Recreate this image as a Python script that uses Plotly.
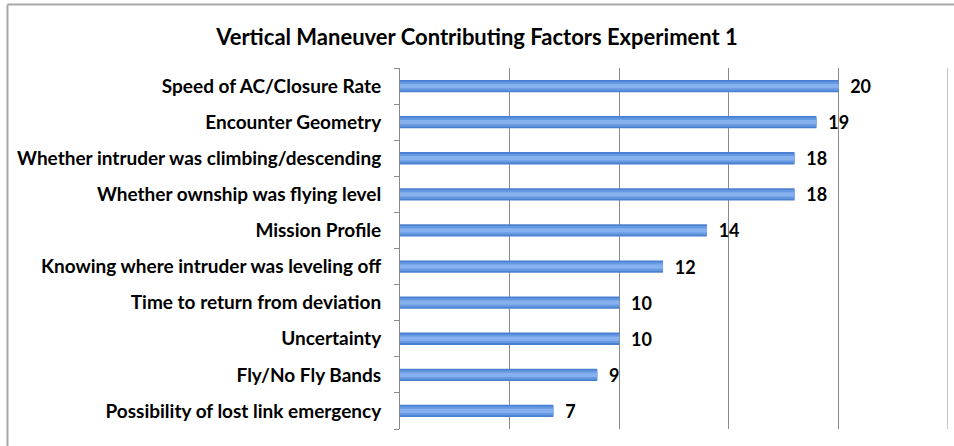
import plotly.graph_objects as go

categories = [
    "Speed of AC/Closure Rate",
    "Encounter Geometry",
    "Whether intruder was climbing/descending",
    "Whether ownship was flying level",
    "Mission Profile",
    "Knowing where intruder was leveling off",
    "Time to return from deviation",
    "Uncertainty",
    "Fly/No Fly Bands",
    "Possibility of lost link emergency",
]
values = [20, 19, 18, 18, 14, 12, 10, 10, 9, 7]
title_text = "Vertical Maneuver Contributing Factors Experiment 1"
x_max = 25

W, H = 954, 446
ML, MR, MT, MB = 400, 6, 68, 17
FONT = "Lato, 'Open Sans', sans-serif"

cats = categories[::-1]
vals = values[::-1]

fig = go.Figure()
# gradient-like bars built from overlaid layers
layers = [(0.34, "#4a80d2", True), (0.24, "#6599e2", False), (0.12, "#86b1ee", False)]
for w, col, lab in layers:
    fig.add_trace(go.Bar(
        y=cats, x=vals, orientation="h", width=w,
        marker=dict(color=col, line=dict(width=0)),
        text=[f"  {v}" for v in vals] if lab else None,
        textposition="outside" if lab else "none",
        constraintext="none",
        textfont=dict(family=FONT, size=18, color="#000000", weight="bold"),
        cliponaxis=False, hoverinfo="skip", showlegend=False,
    ))

pw = W - ML - MR
ph = H - MT - MB
def px_x(p):
    return (p - ML) / pw
def px_y(p):
    return (H - MB - p) / ph

# gridline at the end of the axis range
fig.add_shape(type="line", xref="x", yref="paper", x0=x_max, x1=x_max, y0=0, y1=1,
              line=dict(color="#8a8a8a", width=1), layer="below")

# outer frame (top and left edges visible)
fig.add_shape(type="line", xref="paper", yref="paper",
              x0=px_x(7.5), x1=px_x(W + 2), y0=px_y(4.5), y1=px_y(4.5),
              line=dict(color="#a8a8a8", width=2))
fig.add_shape(type="line", xref="paper", yref="paper",
              x0=px_x(7.5), x1=px_x(7.5), y0=px_y(4.5), y1=px_y(446),
              line=dict(color="#a8a8a8", width=2))

fig.update_layout(
    width=W, height=H,
    margin=dict(l=ML, r=MR, t=MT, b=MB, autoexpand=False),
    paper_bgcolor="white", plot_bgcolor="white",
    barmode="overlay",
    title=dict(text=title_text, x=0.5, xref="container", xanchor="center",
               y=1 - 37 / H, yanchor="middle",
               font=dict(family=FONT, size=22, color="#000000", weight="bold")),
    xaxis=dict(range=[0, x_max], dtick=5, showticklabels=False, showgrid=True,
               gridcolor="#8a8a8a", gridwidth=1, zeroline=False, showline=False,
               ticks="", automargin=False),
    yaxis=dict(showline=True, linecolor="#8a8a8a", linewidth=1,
               ticks="outside", tickson="boundaries", ticklen=5, tickcolor="#8a8a8a",
               tickfont=dict(family=FONT, size=19, color="#000000", weight="bold"),
               ticklabelstandoff=14, showgrid=False, automargin=False),
    font=dict(family=FONT),
)

fig.write_html("out.html", config={"displayModeBar": False},
               post_script="document.body.style.margin='0';")
